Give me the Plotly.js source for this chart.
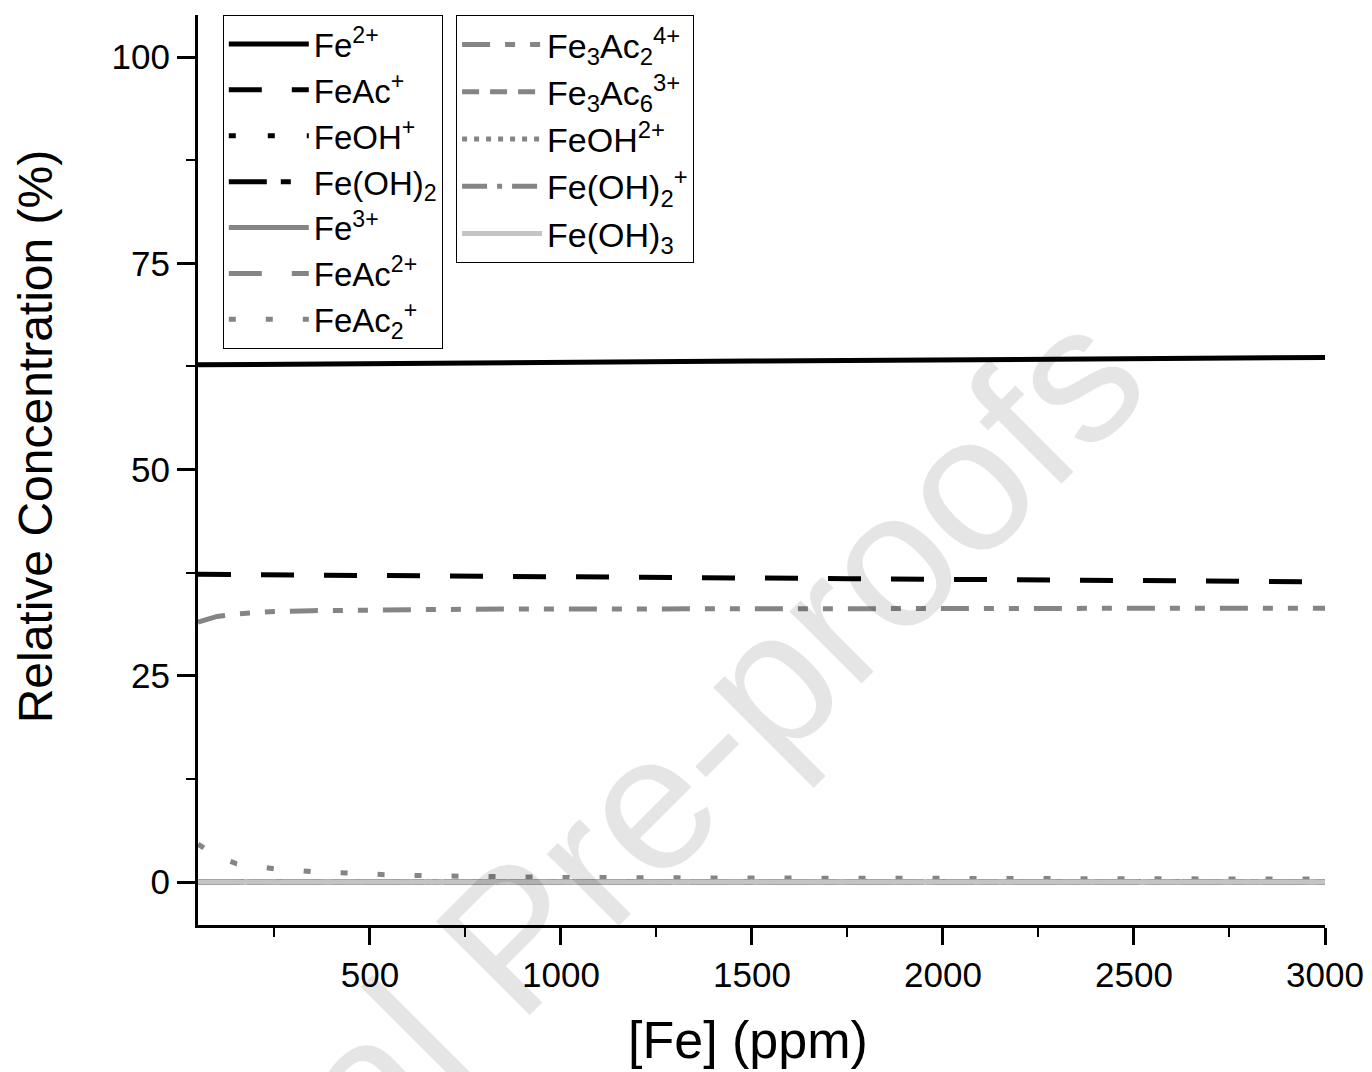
<!DOCTYPE html>
<html>
<head>
<meta charset="utf-8">
<script src="https://cdn.plot.ly/plotly-3.0.1.min.js"></script>
<style>html,body{margin:0;padding:0;background:#fff;}#chart{width:1372px;height:1072px;}</style>
</head>
<body>
<div id="chart"></div>
<script>
// [Fe] (ppm)
const feConc = [50, 100, 150, 250, 350, 450, 550, 650, 750, 850, 1000, 1250, 1500, 1750, 2000, 2250, 2500, 2750, 3000];

// Relative concentration (%)
const fe2 = [62.7, 62.72, 62.74, 62.77, 62.8, 62.83, 62.86, 62.89, 62.92, 62.95, 63.0, 63.07, 63.15, 63.22, 63.3, 63.37, 63.45, 63.52, 63.6];
const feAc = [37.3, 37.28, 37.27, 37.24, 37.21, 37.18, 37.15, 37.12, 37.09, 37.06, 37.02, 36.94, 36.86, 36.78, 36.7, 36.62, 36.55, 36.47, 36.4];
const feOH = [0.05, 0.05, 0.05, 0.05, 0.05, 0.05, 0.05, 0.05, 0.05, 0.05, 0.05, 0.05, 0.05, 0.05, 0.05, 0.05, 0.05, 0.05, 0.05];
const feOH2 = [0, 0, 0, 0, 0, 0, 0, 0, 0, 0, 0, 0, 0, 0, 0, 0, 0, 0, 0];
const fe3 = [0, 0, 0, 0, 0, 0, 0, 0, 0, 0, 0, 0, 0, 0, 0, 0, 0, 0, 0];
const feAc2p = [0.02, 0.02, 0.02, 0.02, 0.02, 0.02, 0.02, 0.02, 0.02, 0.02, 0.02, 0.02, 0.02, 0.02, 0.02, 0.02, 0.02, 0.02, 0.02];
const feAc2 = [4.6, 3.1, 2.25, 1.6, 1.28, 1.05, 0.88, 0.77, 0.69, 0.63, 0.57, 0.52, 0.48, 0.45, 0.42, 0.4, 0.38, 0.37, 0.36];
const fe3Ac2 = [31.5, 32.2, 32.5, 32.8, 32.9, 32.97, 33.02, 33.05, 33.07, 33.09, 33.11, 33.13, 33.15, 33.16, 33.17, 33.18, 33.19, 33.2, 33.2];
const fe3Ac6 = [0, 0, 0, 0, 0, 0, 0, 0, 0, 0, 0, 0, 0, 0, 0, 0, 0, 0, 0];
const feOH2p = [0, 0, 0, 0, 0, 0, 0, 0, 0, 0, 0, 0, 0, 0, 0, 0, 0, 0, 0];
const feOH2plus = [0, 0, 0, 0, 0, 0, 0, 0, 0, 0, 0, 0, 0, 0, 0, 0, 0, 0, 0];
const feOH3 = [0, 0, 0, 0, 0, 0, 0, 0, 0, 0, 0, 0, 0, 0, 0, 0, 0, 0, 0];

const names = [
  'Fe<sup>2+</sup>', 'FeAc<sup>+</sup>', 'FeOH<sup>+</sup>', 'Fe(OH)<sub>2</sub>',
  'Fe<sup>3+</sup>', 'FeAc<sup>2+</sup>', 'FeAc<sub>2</sub><sup>+</sup>',
  'Fe<sub>3</sub>Ac<sub>2</sub><sup>4+</sup>', 'Fe<sub>3</sub>Ac<sub>6</sub><sup>3+</sup>',
  'FeOH<sup>2+</sup>', 'Fe(OH)<sub>2</sub><sup>+</sup>', 'Fe(OH)<sub>3</sub>'
];
const series = [fe2, feAc, feOH, feOH2, fe3, feAc2p, feAc2, fe3Ac2, fe3Ac6, feOH2p, feOH2plus, feOH3];

const xTitle = '[Fe] (ppm)';
const yTitle = 'Relative Concentration (%)';
const watermark = 'Journal Pre-proofs';

const BLACK = '#000000', GREY = '#858585', LIGHT = '#c4c4c4';
const styles = [
  {color: BLACK, dash: 'solid', legend: 'legend'},
  {color: BLACK, dash: '33px,30px', legend: 'legend'},
  {color: BLACK, dash: '7px,32px', legend: 'legend'},
  {color: BLACK, dash: '38px,14px,10px,20px', legend: 'legend'},
  {color: GREY, dash: 'solid', legend: 'legend'},
  {color: GREY, dash: '33px,30px', legend: 'legend'},
  {color: GREY, dash: '7px,30px', legend: 'legend'},
  {color: GREY, dash: '28px,15px,10px,15px,10px,15px', legend: 'legend2'},
  {color: GREY, dash: '17px,11px', legend: 'legend2'},
  {color: GREY, dash: '5px,7px', legend: 'legend2'},
  {color: GREY, dash: '25px,10px,5px,10px', legend: 'legend2'},
  {color: LIGHT, dash: 'solid', legend: 'legend2'}
];

const traces = series.map((ys, i) => ({
  type: 'scatter',
  mode: 'lines',
  x: feConc,
  y: ys,
  name: names[i],
  legend: styles[i].legend,
  line: {color: styles[i].color, width: 5, dash: styles[i].dash},
  hoverinfo: 'skip'
}));

const FONT = 'Liberation Sans, Arial, sans-serif';
const legendBase = {
  yref: 'paper', xref: 'paper', y: 1, yanchor: 'top', xanchor: 'left',
  bgcolor: 'rgba(255,255,255,1)', bordercolor: '#000', borderwidth: 1,
  font: {family: FONT, size: 33, color: '#000'},
  itemwidth: 80, tracegroupgap: 0, traceorder: 'normal'
};

const layout = {
  width: 1372, height: 1072,
  margin: {l: 198, r: 47, t: 15, b: 147},
  paper_bgcolor: '#fff', plot_bgcolor: 'rgba(0,0,0,0)',
  font: {family: FONT, color: '#000'},
  showlegend: true,
  legend: Object.assign({}, legendBase, {x: 0.022}),
  legend2: Object.assign({}, legendBase, {x: 0.229, font: {family: FONT, size: 34, color: '#000'}}),
  xaxis: {
    range: [50, 3000], showgrid: false, zeroline: false,
    showline: true, linecolor: '#000', linewidth: 3,
    ticks: 'outside', ticklen: 17, tickwidth: 3, tickcolor: '#000',
    tick0: 0, dtick: 500,
    minor: {dtick: 250, ticks: 'outside', ticklen: 9, tickwidth: 2, tickcolor: '#000'},
    tickfont: {family: FONT, size: 35, color: '#000'}
  },
  yaxis: {
    range: [-5.2, 105.1], showgrid: false, zeroline: false,
    showline: true, linecolor: '#000', linewidth: 3,
    ticks: 'outside', ticklen: 18, tickwidth: 3, tickcolor: '#000',
    tick0: 0, dtick: 25,
    minor: {dtick: 12.5, ticks: 'outside', ticklen: 9, tickwidth: 2, tickcolor: '#000'},
    tickfont: {family: FONT, size: 35, color: '#000'}
  },
  annotations: [
    {
      xref: 'paper', yref: 'paper', x: 0.31, y: 0.024,
      text: watermark, showarrow: false, textangle: -45,
      font: {family: FONT, size: 193, color: 'rgba(0,0,0,0.1)'},
      xanchor: 'center', yanchor: 'middle'
    },
    {
      xref: 'paper', yref: 'paper', x: 0.488, y: -0.1264,
      text: xTitle, showarrow: false,
      font: {family: FONT, size: 52, color: '#000'},
      xanchor: 'center', yanchor: 'middle'
    },
    {
      xref: 'paper', yref: 'paper', x: -0.1446, y: 0.537,
      text: yTitle, showarrow: false, textangle: -90,
      font: {family: FONT, size: 48, color: '#000'},
      xanchor: 'center', yanchor: 'middle'
    }
  ]
};

Plotly.newPlot('chart', traces, layout, {staticPlot: true, displayModeBar: false});
</script>
</body>
</html>
